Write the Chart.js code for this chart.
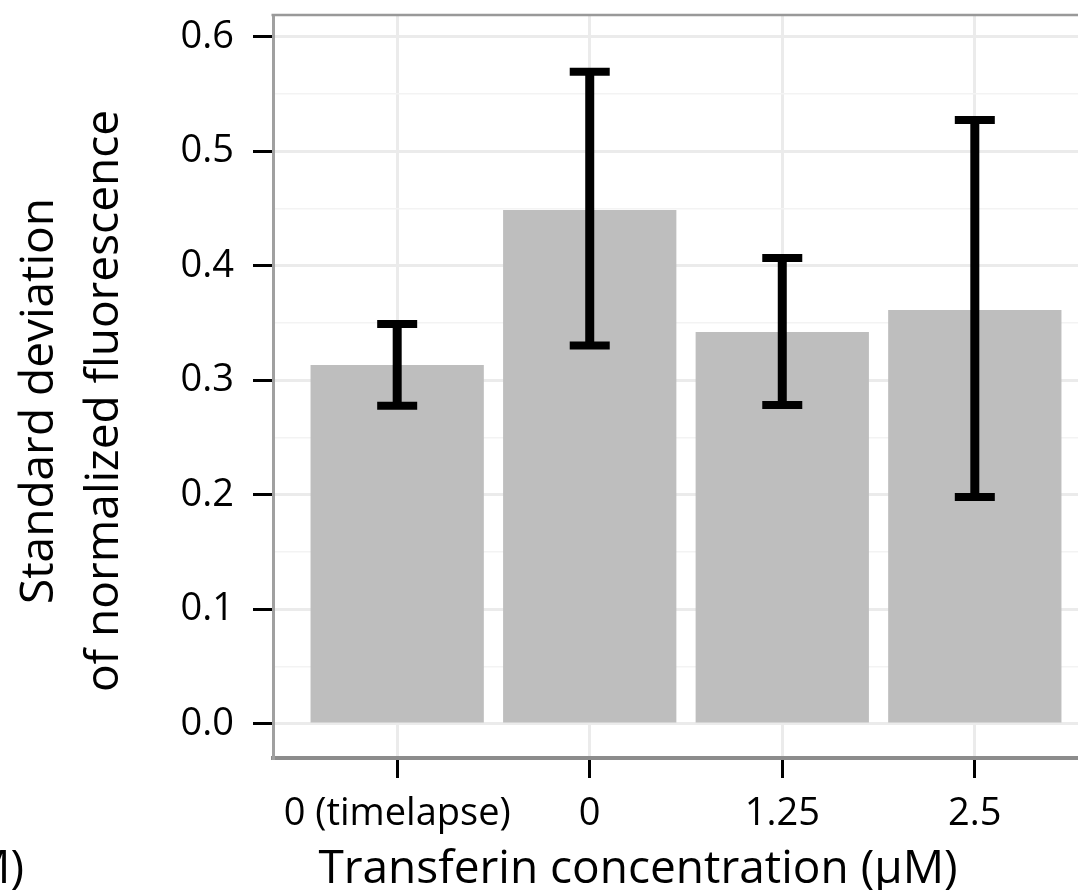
<!DOCTYPE html>
<html>
<head>
<meta charset="utf-8">
<script src="https://cdn.jsdelivr.net/npm/chart.js@4.4.0/dist/chart.umd.min.js"></script>
<style>
  html, body { margin: 0; padding: 0; overflow: hidden; background: #fff; }
  canvas { display: block; }
</style>
</head>
<body>
<canvas id="out" width="1110" height="900"></canvas>
<script>
// values
const categories = ["0 (timelapse)", "0", "1.25", "2.5"];
const sdValues = [0.3135, 0.449, 0.3424, 0.3616];
const errLow = [0.278, 0.3306, 0.2786, 0.1983];
const errHigh = [0.3493, 0.5697, 0.407, 0.5275];
const yTitle = ["Standard deviation", "of normalized fluorescence"];
const xTitle = "Transferin concentration (µM)";
const cutText = "(µM)"; // end of the neighbouring panel's axis title

Chart.defaults.font.family = "'Open Sans', sans-serif";
Chart.defaults.color = "#000";

function isMajor(v) {
  return Math.abs(Math.round(v * 10) - v * 10) < 1e-6;
}

const errorBars = {
  id: "errorBars",
  afterDatasetsDraw(chart) {
    const ctx = chart.ctx;
    const xs = chart.scales.x, ys = chart.scales.y;
    ctx.save();
    ctx.strokeStyle = "#000";
    for (let i = 0; i < categories.length; i++) {
      const x = xs.getPixelForValue(i);
      const top = ys.getPixelForValue(errHigh[i]);
      const bot = ys.getPixelForValue(errLow[i]);
      ctx.lineWidth = 9;
      ctx.beginPath();
      ctx.moveTo(x, top);
      ctx.lineTo(x, bot);
      ctx.stroke();
      ctx.lineWidth = 8;
      ctx.beginPath();
      ctx.moveTo(x - 20, top); ctx.lineTo(x + 20, top);
      ctx.moveTo(x - 20, bot); ctx.lineTo(x + 20, bot);
      ctx.stroke();
    }
    ctx.restore();
  }
};

// top panel border + axis titles (placed as in the figure, not centred on the panel)
const panelExtras = {
  id: "panelExtras",
  afterDraw(chart) {
    const {ctx, chartArea} = chart;
    ctx.save();
    ctx.strokeStyle = "#999";
    ctx.lineWidth = 2.5;
    ctx.beginPath();
    ctx.moveTo(chartArea.left - 1.5, chartArea.top);
    ctx.lineTo(chartArea.right, chartArea.top);
    ctx.stroke();

    ctx.fillStyle = "#000";
    ctx.font = "46px 'Open Sans'";
    ctx.textBaseline = "alphabetic";
    ctx.textAlign = "center";
    ctx.fillText(xTitle, 638, 883);
    ctx.textAlign = "right";
    ctx.fillText(cutText, 24, 883);

    ctx.translate(40, 401);
    ctx.rotate(-Math.PI / 2);
    ctx.textAlign = "center";
    ctx.textBaseline = "middle";
    ctx.fillText(yTitle[0], 0, 0);
    ctx.fillText(yTitle[1], 0, 65);
    ctx.restore();
  }
};

new Chart(document.getElementById("out"), {
  type: "bar",
  data: {
    datasets: [{
      data: sdValues.map((v, i) => ({x: i, y: v})),
      backgroundColor: "#bebebe",
      borderWidth: 0,
      categoryPercentage: 0.9,
      barPercentage: 1.0
    }]
  },
  options: {
    responsive: false,
    animation: false,
    layout: {padding: {top: 15, right: 11, left: 0, bottom: 0}},
    plugins: {legend: {display: false}, tooltip: {enabled: false}},
    scales: {
      x: {
        type: "linear",
        offset: false,
        min: -0.645,
        max: 3.645,
        afterFit: s => { s.height = 142; s.paddingLeft = 0; s.paddingRight = 0; },
        ticks: {
          stepSize: 1,
          includeBounds: false,
          autoSkip: false,
          maxRotation: 0,
          padding: 13,
          color: "#000",
          font: {size: 38},
          callback: v => categories[Math.round(v)]
        },
        grid: {offset: false, color: "#ebebeb", lineWidth: 3, tickColor: "#000", tickWidth: 3, tickLength: 20},
        border: {color: "#8c8c8c", width: 4}
      },
      y: {
        min: -0.0297,
        max: 0.6192,
        afterFit: s => { s.width = 273; s.paddingTop = 0; s.paddingBottom = 0; },
        ticks: {
          stepSize: 0.05,
          includeBounds: false,
          autoSkip: false,
          padding: 19,
          color: "#000",
          font: {size: 38},
          callback: v => isMajor(v) ? v.toFixed(1) : ""
        },
        grid: {
          color: c => (c.tick && isMajor(c.tick.value)) ? "#ebebeb" : "#f3f3f3",
          lineWidth: c => (c.tick && isMajor(c.tick.value)) ? 3 : 1.5,
          tickColor: c => (c.tick && isMajor(c.tick.value)) ? "#000" : "rgba(0,0,0,0)",
          tickWidth: 3,
          tickLength: 20
        },
        border: {color: "#a0a0a0", width: 3}
      }
    }
  },
  plugins: [errorBars, panelExtras]
});
</script>
</body>
</html>
